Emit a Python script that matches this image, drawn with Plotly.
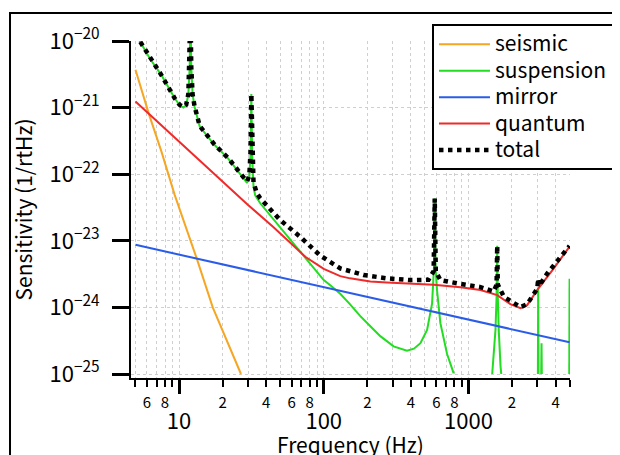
import plotly.graph_objects as go

# ---------------- data ----------------
seismic_f = [5.0, 6.17, 7.55, 9.33, 13.3, 17.1, 26.8]
seismic_v = [3.7e-21, 8.2e-22, 2.2e-22, 4.9e-23, 5.3e-24, 1.0e-24, 1.0e-25]

suspension_f = [5.0, 5.35, 6.27, 7.55, 9.33, 10.1, 10.7, 11.2, 11.6, 11.85, 12.0, 12.15, 12.4, 12.8,
                13.9, 17.6, 21.8, 28.5, 29.5, 30.6, 31.2, 31.6, 32.0, 32.7, 33.6, 36.4, 50, 74.5,
                100, 111, 120, 130, 150, 179, 210, 246, 304, 376, 420, 466, 518, 561, 578, 585,
                592, 607, 640, 712, 791,
                None,
                1460, 1496, 1538, 1565, 1581, 1596, 1620, 1667, 1686,
                None,
                3020, 3035, 3050,
                None,
                3185, 3200, 3215,
                None,
                4975, 5000]
suspension_v = [1.26e-20, 1.0e-20, 5.5e-21, 3.08e-21, 1.38e-21, 1.09e-21, 1.0e-21, 1.08e-21, 1.6e-21, 4e-21, 3e-20, 4e-21, 1.6e-21, 1.03e-21,
                5.2e-22, 2.74e-22, 1.73e-22, 8.2e-23, 7.4e-23, 9.0e-23, 2.0e-22, 1.6e-21, 2.0e-22, 6.6e-23, 4.8e-23, 3.66e-23, 1.59e-23, 5.57e-24,
                2.57e-24, 2.15e-24, 1.84e-24, 1.6e-24, 1.15e-24, 7.4e-25, 5.2e-25, 3.7e-25, 2.6e-25, 2.24e-25, 2.4e-25, 2.9e-25, 4.6e-25, 1.15e-24, 4e-24, 4.3e-23,
                4e-24, 1.8e-24, 5.8e-25, 2.0e-25, 1.02e-25,
                None,
                1.0e-25, 1.8e-25, 4.6e-25, 1.45e-24, 8.4e-24, 1.45e-24, 4.6e-25, 1.3e-25, 1.0e-25,
                None,
                1.0e-25, 1.94e-24, 1.0e-25,
                None,
                1.0e-25, 2.9e-25, 1.0e-25,
                None,
                1.0e-25, 2.7e-24]

mirror_f = [5.0, 5000]
mirror_v = [8.7e-24, 3.0e-25]

quantum_f = [5, 10, 20, 30, 45, 60, 75, 100, 130, 152, 210, 273, 400, 575, 881, 1211, 1581,
             1950, 2291, 2546, 2760, 2985, 3890, 5000]
quantum_v = [1.23e-21, 3.1e-22, 7.7e-23, 3.45e-23, 1.6e-23, 9.0e-24, 5.7e-24, 3.8e-24, 2.95e-24, 2.73e-24,
             2.45e-24, 2.36e-24, 2.28e-24, 2.19e-24, 2.0e-24, 1.82e-24, 1.53e-24,
             1.12e-24, 9.7e-25, 1.08e-24, 1.4e-24, 1.82e-24, 3.86e-24, 8.2e-24]

total_f = [5.0, 5.35, 6.27, 7.55, 9.33, 10.1, 10.7, 11.2, 11.6, 11.85, 12.0, 12.15, 12.4, 12.8,
           13.9, 17.6, 21.8, 28.5, 29.5, 30.6, 31.2, 31.6, 32.0, 32.7, 34.5, 36.4, 50, 68.7, 94.6,
           130, 188, 273, 397, 530, 575, 585, 595, 640, 881, 1211, 1496, 1565, 1581, 1596,
           1758, 2173, 2291, 2546, 2760, 2990, 3035, 3080, 3510, 5000]
total_v = [1.26e-20, 1.0e-20, 5.5e-21, 3.08e-21, 1.38e-21, 1.1e-21, 1.02e-21, 1.1e-21, 1.6e-21, 4e-21, 3e-20, 4e-21, 1.6e-21, 1.05e-21,
           5.3e-22, 2.78e-22, 1.76e-22, 8.5e-23, 7.8e-23, 9.5e-23, 2.2e-22, 1.6e-21, 2.2e-22, 7.5e-23, 5.2e-23, 4.35e-23, 2.05e-23, 1.15e-23, 6.0e-24,
           3.86e-24, 3.07e-24, 2.73e-24, 2.57e-24, 2.6e-24, 3.5e-24, 4.3e-23, 3.5e-24, 2.57e-24, 2.25e-24, 2.02e-24, 1.73e-24, 2.2e-24, 8.4e-24, 2.2e-24,
           1.44e-24, 1.12e-24, 1.01e-24, 1.12e-24, 1.44e-24, 1.9e-24, 2.7e-24, 2.1e-24, 3.25e-24, 8.4e-24]

series_names = ["seismic", "suspension", "mirror", "quantum", "total"]

# axis ticks
x_minor_vals = [5, 6, 7, 8, 9, 20, 30, 40, 50, 60, 70, 80, 90,
                200, 300, 400, 500, 600, 700, 800, 900, 2000, 3000, 4000, 5000]
x_minor_text = ["", "6", "", "8", "", "2", "", "4", "", "6", "", "8", "",
                "2", "", "4", "", "6", "", "8", "", "2", "", "4", ""]
x_major_vals = [10, 100, 1000]
x_major_text = ["10", "100", "1000"]
y_vals = [1e-25, 1e-24, 1e-23, 1e-22, 1e-21, 1e-20]
y_text = ["10<sup>\u221225</sup>", "10<sup>\u221224</sup>", "10<sup>\u221223</sup>",
          "10<sup>\u221222</sup>", "10<sup>\u221221</sup>", "10<sup>\u221220</sup>"]

FONT = "Noto Sans CJK JP"
X_RANGE = [0.668, 3.702]
Y_RANGE = [-25.06, -20.0]
GRID = "#cfcfcf"


def legend_name(s):
    return "<span style='font-size:21px'>" + s + "</span>"


fig = go.Figure()
fig.add_trace(go.Scatter(x=seismic_f, y=seismic_v, name=legend_name(series_names[0]), mode="lines",
                         line=dict(color="#f5a623", width=2)))
fig.add_trace(go.Scatter(x=suspension_f, y=suspension_v, name=legend_name(series_names[1]), mode="lines",
                         line=dict(color="#22dd22", width=2), connectgaps=False))
fig.add_trace(go.Scatter(x=mirror_f, y=mirror_v, name=legend_name(series_names[2]), mode="lines",
                         line=dict(color="#2a5ce8", width=2)))
fig.add_trace(go.Scatter(x=quantum_f, y=quantum_v, name=legend_name(series_names[3]), mode="lines",
                         line=dict(color="#ee2a2a", width=2)))
fig.add_trace(go.Scatter(x=total_f, y=total_v, name=legend_name(series_names[4]), mode="lines",
                         line=dict(color="black", width=4.5, dash="dot")))
# empty helper trace so that the decade axis (x2) is drawn
fig.add_trace(go.Scatter(x=[], y=[], xaxis="x2", yaxis="y", showlegend=False,
                         hoverinfo="skip", mode="lines"))

fig.update_layout(
    width=612, height=451,
    margin=dict(l=123, r=50, t=33, b=81, autoexpand=False),
    paper_bgcolor="white", plot_bgcolor="white",
    font=dict(family=FONT, color="black"),
    hovermode=False,
    legend=dict(x=0.6856, y=1.050, xanchor="left", yanchor="top",
                bgcolor="white", bordercolor="black", borderwidth=2,
                font=dict(size=18, family=FONT), tracegroupgap=0,
                itemwidth=51),
    xaxis=dict(type="log", range=X_RANGE, tickmode="array",
               tickvals=x_minor_vals, ticktext=x_minor_text,
               ticks="outside", ticklen=7, tickwidth=2, tickcolor="black",
               showline=True, linewidth=2, linecolor="black",
               showgrid=True, gridcolor=GRID, griddash="dot", gridwidth=1,
               tickfont=dict(size=15), ticklabelstandoff=3, zeroline=False),
    xaxis2=dict(type="log", range=X_RANGE, overlaying="x", anchor="y", side="bottom",
                tickmode="array", tickvals=x_major_vals, ticktext=x_major_text,
                ticks="outside", ticklen=15, tickwidth=2.5, tickcolor="black",
                showline=False, showgrid=True, gridcolor=GRID, griddash="dot", gridwidth=1,
                tickfont=dict(size=22), ticklabelstandoff=9, zeroline=False,
                title=dict(text="Frequency (Hz)", font=dict(size=21))),
    yaxis=dict(type="log", range=Y_RANGE, tickmode="array",
               tickvals=y_vals, ticktext=y_text,
               ticks="outside", ticklen=17, tickwidth=2.5, tickcolor="black",
               showline=True, linewidth=2, linecolor="black",
               showgrid=True, gridcolor=GRID, griddash="dot", gridwidth=1,
               tickfont=dict(size=22), ticklabelstandoff=8, zeroline=False,
               title=dict(text="Sensitivity (1/rtHz)", font=dict(size=21))),
    shapes=[dict(type="rect", xref="paper", yref="paper",
                 x0=-0.2756, x1=1.25, y0=-0.4, y1=1.0831,
                 line=dict(color="black", width=2), fillcolor="rgba(0,0,0,0)", layer="below")],
)

fig.write_html("out.html")
